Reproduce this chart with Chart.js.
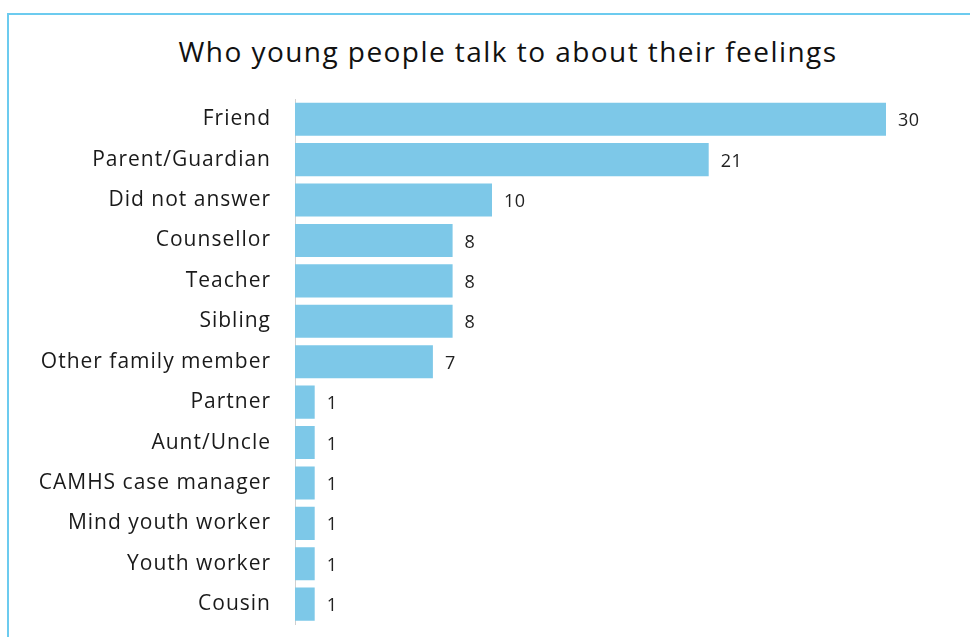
<!DOCTYPE html>
<html>
<head>
<meta charset="utf-8">
<script src="https://cdn.jsdelivr.net/npm/chart.js@4/dist/chart.umd.min.js"></script>
<style>
  html, body { margin: 0; padding: 0; background: #fff; overflow: hidden; }
  body { width: 970px; height: 637px; position: relative; font-family: "Open Sans", sans-serif; }
  .frame {
    position: absolute; left: 7px; top: 13px; width: 1000px; height: 700px;
    border: 2px solid #6ccbef; box-sizing: border-box;
  }
  .title {
    position: absolute; left: 0; top: 32px; width: 1016px; text-align: center;
    font-family: "Open Sans", sans-serif; font-size: 28px; color: #111; letter-spacing: 1.45px;
  }
  #wrap { position: absolute; left: 0; top: 0; width: 970px; height: 637px; overflow: hidden; }
</style>
</head>
<body>
<div class="frame"></div>
<div class="title">Who young people talk to about their feelings</div>
<div id="wrap"><canvas id="c" width="970" height="661"></canvas></div>
<script>
// Who respondents say they talk to about their feelings (counts)
const categories = [
  "Friend", "Parent/Guardian", "Did not answer", "Counsellor", "Teacher",
  "Sibling", "Other family member", "Partner", "Aunt/Uncle",
  "CAMHS case manager", "Mind youth worker", "Youth worker", "Cousin"
];
const counts = [30, 21, 10, 8, 8, 8, 7, 1, 1, 1, 1, 1, 1];

// Slightly wider letter spacing for all canvas text
const spacing = {
  id: "spacing",
  beforeDraw(chart) { chart.ctx.letterSpacing = "1px"; }
};

// Writes each bar's count just past its end
const valueLabels = {
  id: "valueLabels",
  afterDatasetsDraw(chart) {
    const ctx = chart.ctx;
    const meta = chart.getDatasetMeta(0);
    ctx.save();
    ctx.letterSpacing = "0.5px";
    ctx.font = '18px "Open Sans", sans-serif';
    ctx.fillStyle = "#222";
    ctx.textAlign = "left";
    ctx.textBaseline = "middle";
    meta.data.forEach((bar, i) => {
      ctx.fillText(String(counts[i]), bar.x + 12, bar.y + 2);
    });
    ctx.restore();
  }
};

new Chart(document.getElementById("c"), {
  type: "bar",
  data: {
    labels: categories,
    datasets: [{
      data: counts,
      backgroundColor: "#7dc8e8",
      borderWidth: 0,
      barPercentage: 0.82,
      categoryPercentage: 1
    }]
  },
  options: {
    indexAxis: "y",
    responsive: false,
    animation: false,
    layout: { padding: { top: 99, bottom: 0, right: 84, left: 0 } },
    plugins: {
      legend: { display: false },
      title: { display: false },
      tooltip: { enabled: false }
    },
    scales: {
      x: {
        display: false,
        min: 0,
        max: 30
      },
      y: {
        afterFit(scale) { scale.width = 295; },
        grid: { display: false, drawTicks: false },
        border: { display: true, color: "#d0d0d0", width: 1 },
        ticks: {
          padding: 24,
          color: "#1a1a1a",
          font: { family: '"Open Sans", sans-serif', size: 21 }
        }
      }
    }
  },
  plugins: [spacing, valueLabels]
});
</script>
</body>
</html>
